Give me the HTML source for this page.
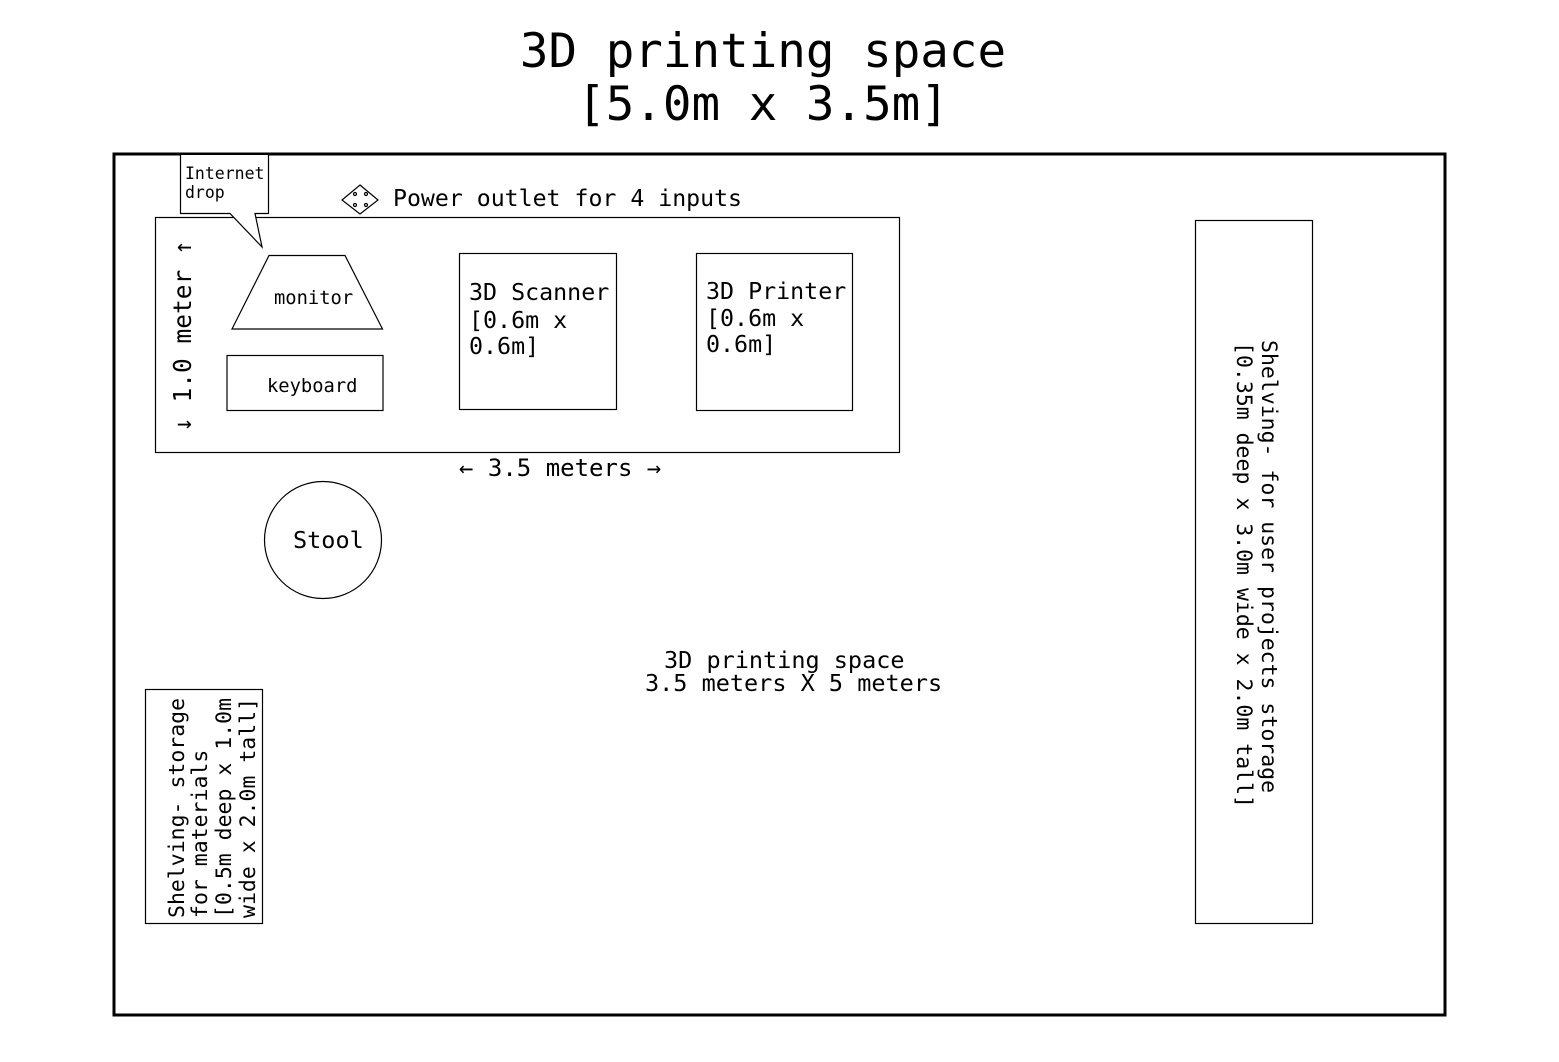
<!DOCTYPE html>
<html><head><meta charset="utf-8"><style>
html,body{margin:0;padding:0;background:#fff;}
svg{display:block;}
text{font-family:"DejaVu Sans Mono","Liberation Mono",monospace;fill:#000;}
</style></head><body>
<svg width="1559" height="1062" viewBox="0 0 1559 1062" xmlns="http://www.w3.org/2000/svg">
<rect width="1559" height="1062" fill="#fff"/>
<text x="763" y="67" font-size="47.5" text-anchor="middle">3D printing space</text>
<text x="763" y="120" font-size="47.5" text-anchor="middle">[5.0m x 3.5m]</text>
<rect x="114" y="154" width="1331" height="861" fill="none" stroke="#000" stroke-width="3"/>
<rect x="155.5" y="217.5" width="744" height="235" fill="none" stroke="#000" stroke-width="1.2"/>
<path d="M180.5 155 V213.5 H230 L262 247 L255 213.5 H268.5 V155" fill="#fff" stroke="#000" stroke-width="1.2"/>
<text x="185" y="179" font-size="16.5">Internet</text>
<text x="185" y="198" font-size="16.5">drop</text>
<g stroke="#000" fill="none" stroke-width="1.2">
<path d="M360 185 L378 200 L360 214 L342 200 Z"/>
<circle cx="355" cy="194" r="1.5"/><circle cx="366" cy="194" r="1.5"/><circle cx="355" cy="205" r="1.5"/><circle cx="366" cy="205" r="1.5"/>
</g>
<text x="393" y="206" font-size="23.2">Power outlet for 4 inputs</text>
<path d="M269 255.5 H345 L382.5 329 H232 Z" fill="none" stroke="#000" stroke-width="1.2"/>
<text x="274" y="304" font-size="18.8">monitor</text>
<rect x="227" y="355.5" width="156" height="55" fill="none" stroke="#000" stroke-width="1.2"/>
<text x="267" y="392" font-size="18.8">keyboard</text>
<text transform="translate(191,432) rotate(-90)" font-size="24.5">↓ 1.0 meter ↑</text>
<rect x="459.5" y="253.5" width="157" height="156" fill="none" stroke="#000" stroke-width="1.2"/>
<text x="469" y="300" font-size="23.3">3D Scanner</text>
<text x="469" y="328" font-size="23.3">[0.6m x</text>
<text x="469" y="354" font-size="23.3">0.6m]</text>
<rect x="696.5" y="253.5" width="156" height="157" fill="none" stroke="#000" stroke-width="1.2"/>
<text x="706" y="299" font-size="23.3">3D Printer</text>
<text x="706" y="326" font-size="23.3">[0.6m x</text>
<text x="706" y="352" font-size="23.3">0.6m]</text>
<text x="459" y="476" font-size="24">← 3.5 meters →</text>
<circle cx="323" cy="540" r="58.5" fill="none" stroke="#000" stroke-width="1.2"/>
<text x="293" y="548" font-size="23.5">Stool</text>
<text x="664" y="668" font-size="23.5">3D printing space</text>
<text x="645" y="691" font-size="23.5">3.5 meters X 5 meters</text>
<rect x="145.5" y="689.5" width="117" height="234" fill="none" stroke="#000" stroke-width="1.2"/>
<g font-size="21.5">
<text transform="translate(184,918) rotate(-90)">Shelving- storage</text>
<text transform="translate(207,918) rotate(-90)">for materials</text>
<text transform="translate(231,918) rotate(-90)">[0.5m deep x 1.0m</text>
<text transform="translate(255,918) rotate(-90)">wide x 2.0m tall]</text>
</g>
<rect x="1195.5" y="220.5" width="117" height="703" fill="none" stroke="#000" stroke-width="1.2"/>
<g font-size="21.5">
<text transform="translate(1262,340) rotate(90)">Shelving- for user projects storage</text>
<text transform="translate(1237,342) rotate(90)">[0.35m deep x 3.0m wide x 2.0m tall]</text>
</g>
</svg>
</body></html>
